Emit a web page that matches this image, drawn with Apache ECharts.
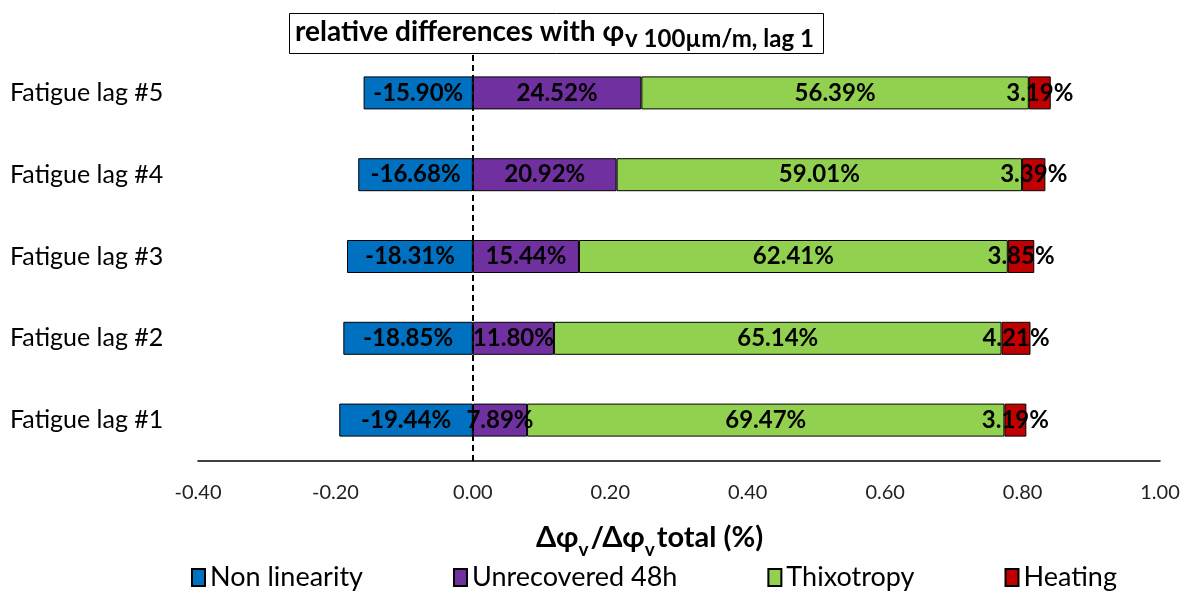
<!DOCTYPE html>
<html><head><meta charset="utf-8">
<script src="https://cdn.jsdelivr.net/npm/echarts@6/dist/echarts.min.js"></script>
<style>html,body{margin:0;padding:0;background:#fff}#c{width:1195px;height:597px}</style>
</head><body><div id="c"></div>
<script>
const categories = ['Fatigue lag #1','Fatigue lag #2','Fatigue lag #3','Fatigue lag #4','Fatigue lag #5'];
const nonLinearity = [-0.1944, -0.1885, -0.1831, -0.1668, -0.1590];
const unrecovered48h = [0.0789, 0.1180, 0.1544, 0.2092, 0.2452];
const thixotropy = [0.6947, 0.6514, 0.6241, 0.5901, 0.5639];
const heating = [0.0319, 0.0421, 0.0385, 0.0339, 0.0319];
const xTicks = {min: -0.4, max: 1.0, interval: 0.2};

const F = 'Lato, "Open Sans", sans-serif';
const chart = echarts.init(document.getElementById('c'));
function mk(name, data, color, extra) {
  return Object.assign({
    name, type: 'bar', stack: 'total', data, barWidth: 33,
    itemStyle: {color, borderColor: '#000', borderWidth: 1},
    label: {show: true, position: 'inside', color: '#000', fontFamily: F, fontWeight: 'bold', fontSize: 24,
      formatter: p => (p.value * 100).toFixed(2) + '%'},
    emphasis: {disabled: true}
  }, extra || {});
}
chart.setOption({
  animation: false,
  title: {
    text: '{a|relative differences with φ}{b|v 100µm/m, lag 1}',
    left: 289, top: 5, borderColor: '#000', borderWidth: 1, padding: [5, 10, 3, 6],
    backgroundColor: '#fff',
    textStyle: {rich: {
      a: {fontFamily: F, fontWeight: 'bold', fontSize: 28, color: '#000', lineHeight: 36, verticalAlign: 'bottom'},
      b: {fontFamily: F, fontSize: 24, color: '#000', lineHeight: 30, verticalAlign: 'bottom', padding: [0,0,-5,1]}
    }}
  },
  grid: {left: 198, right: 35, top: 52, bottom: 136, containLabel: false},
  legend: {
    bottom: 1, left: 186, itemGap: 90, itemWidth: 13, itemHeight: 17,
    icon: 'rect',
    textStyle: {fontFamily: F, fontSize: 27, color: '#000'},
    data: ['Non linearity', 'Unrecovered 48h', 'Thixotropy', 'Heating']
  },
  xAxis: {
    type: 'value', min: xTicks.min, max: xTicks.max, interval: xTicks.interval,
    axisLine: {show: true, lineStyle: {color: '#000', width: 1.5}},
    axisTick: {show: false}, splitLine: {show: false},
    axisLabel: {fontFamily: F, fontSize: 20, color: '#222', margin: 22, formatter: v => v.toFixed(2)}
  },
  yAxis: {
    type: 'category', data: categories,
    axisLine: {show: false}, axisTick: {show: false},
    axisLabel: {fontFamily: F, fontSize: 25, color: '#000', align: 'left', margin: 188}
  },
  graphic: [{
    type: 'text', left: 536, top: 523,
    style: {
      text: '{a|Δφ}{s|v}{a|/Δφ}{s|v}{a|total (%)}',
      rich: {
        a: {fontFamily: F, fontWeight: 'bold', fontSize: 29, color: '#000', lineHeight: 38, verticalAlign: 'bottom'},
        s: {fontFamily: F, fontWeight: 'bold', fontSize: 19, color: '#000', lineHeight: 28, verticalAlign: 'bottom', padding: [0,2,-7,0]}
      }
    }
  }],
  series: [
    mk('Non linearity', nonLinearity, '#0070C0', {
      markLine: {symbol: 'none', silent: true, label: {show: false},
        lineStyle: {color: '#000', type: [6, 4], width: 2}, data: [{xAxis: 0}]}
    }),
    mk('Unrecovered 48h', unrecovered48h, '#7030A0'),
    mk('Thixotropy', thixotropy, '#92D050'),
    mk('Heating', heating, '#C00000')
  ]
});
</script></body></html>
